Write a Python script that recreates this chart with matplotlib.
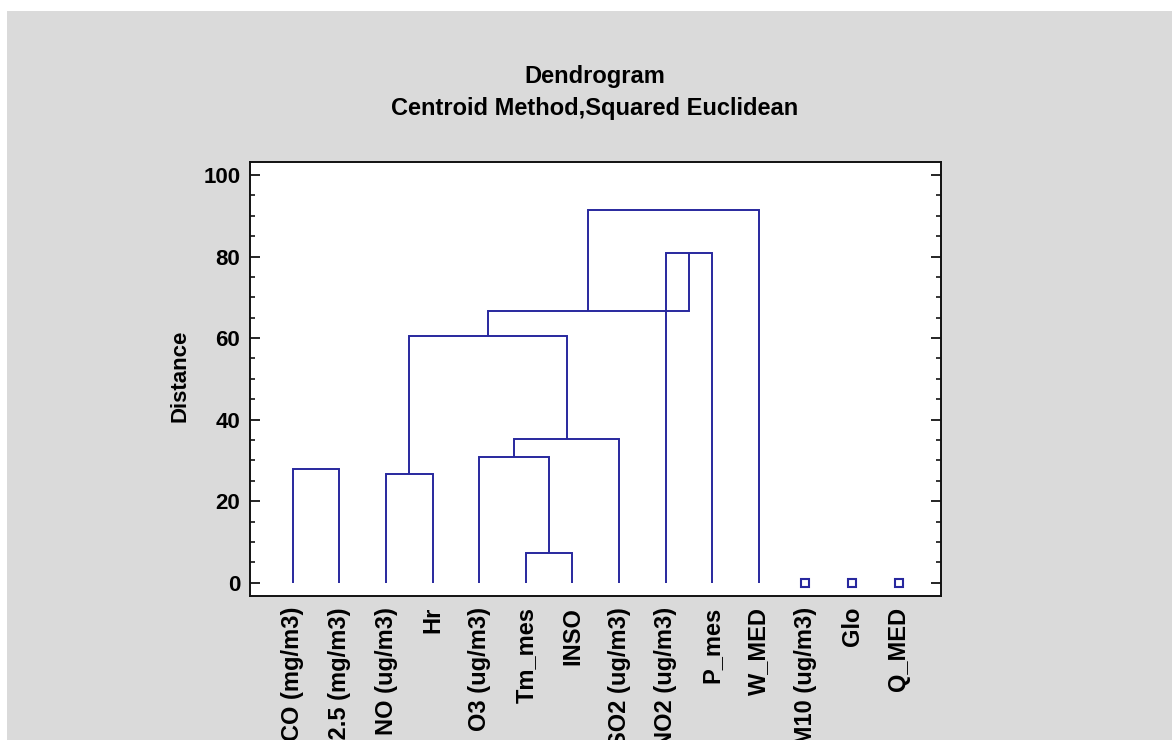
import matplotlib
matplotlib.use("Agg")
import matplotlib.pyplot as plt
from matplotlib.patches import Rectangle
from matplotlib.ticker import MultipleLocator

# Leaf variables in dendrogram order
leaf_labels = ["CO (mg/m3)", "PM2.5 (mg/m3)", "NO (ug/m3)", "Hr", "O3 (ug/m3)",
               "Tm_mes", "INSO", "SO2 (ug/m3)", "NO2 (ug/m3)", "P_mes", "W_MED",
               "PM10 (ug/m3)", "Glo", "Q_MED"]

# Merge steps: (left member, right member, distance). Cluster names refer to earlier steps.
merge_left = ["CO (mg/m3)", "NO (ug/m3)", "Tm_mes", "O3 (ug/m3)", "D", "B",
              "NO2 (ug/m3)", "F", "H"]
merge_right = ["PM2.5 (mg/m3)", "Hr", "INSO", "C", "SO2 (ug/m3)", "E",
               "P_mes", "G", "W_MED"]
merge_dist = [27.9, 26.7, 7.2, 30.8, 35.2, 60.4, 81.0, 66.6, 91.4]
merge_names = ["A", "B", "C", "D", "E", "F", "G", "H", "I"]

# Variables left as single-member clusters
singletons = ["PM10 (ug/m3)", "Glo", "Q_MED"]

y_ticks = [0, 20, 40, 60, 80, 100]

line_color = "#28289e"
bg_gray = "#dadada"

plt.rcParams["font.family"] = ["Liberation Sans", "DejaVu Sans"]
plt.rcParams["font.weight"] = "bold"

fig = plt.figure(figsize=(11.72, 7.40), dpi=100, facecolor="white")
fig.patches.append(Rectangle((7 / 1172, 0), 1, 1 - 11 / 740, transform=fig.transFigure,
                             facecolor=bg_gray, edgecolor="none", zorder=-10))

ax = fig.add_axes([250 / 1172, 1 - 596 / 740, 691 / 1172, 434 / 740])
ax.set_facecolor("white")

# Positions and heights of nodes
xpos = {name: i + 1 for i, name in enumerate(leaf_labels)}
height = {name: 0.0 for name in leaf_labels}

for left, right, d, name in zip(merge_left, merge_right, merge_dist, merge_names):
    xl, xr = xpos[left], xpos[right]
    hl, hr = height[left], height[right]
    ax.plot([xl, xl, xr, xr], [hl, d, d, hr], color=line_color, lw=1.4,
            solid_joinstyle="miter", solid_capstyle="butt")
    xpos[name] = (xl + xr) / 2
    height[name] = d

ax.plot([xpos[s] for s in singletons], [0] * len(singletons), linestyle="none",
        marker="s", markersize=5.5, markerfacecolor="white",
        markeredgecolor=line_color, markeredgewidth=1.5)

ax.set_xlim(0.08, 14.91)
ax.set_ylim(-3.26, 103.2)

ax.set_xticks([xpos[n] for n in leaf_labels])
ax.set_xticklabels(leaf_labels, rotation=90, va="top", ha="center",
                   fontsize=17, fontweight="bold")
ax.tick_params(axis="x", length=0, pad=8)

ax.set_yticks(y_ticks)
ax.yaxis.set_minor_locator(MultipleLocator(5))
ax.tick_params(axis="y", which="major", direction="in", length=7.5, width=1.2,
               left=True, right=True, labelsize=16, pad=7)
ax.tick_params(axis="y", which="minor", direction="in", length=3.8, width=1.1,
               left=True, right=True)
for lab in ax.get_yticklabels():
    lab.set_fontweight("bold")

for sp in ax.spines.values():
    sp.set_linewidth(1.4)
    sp.set_color("#111111")

fig.text(180 / 1172, 1 - 376 / 740, "Distance", rotation=90, ha="center",
         va="center", fontsize=16, fontweight="bold")

fig.text(595 / 1172, 1 - 77 / 740, "Dendrogram", ha="center", va="center",
         fontsize=17, fontweight="bold")
fig.text(595 / 1172, 1 - 108 / 740, "Centroid Method,Squared Euclidean",
         ha="center", va="center", fontsize=17, fontweight="bold")

fig.savefig("out.png", dpi=100, facecolor=fig.get_facecolor())
